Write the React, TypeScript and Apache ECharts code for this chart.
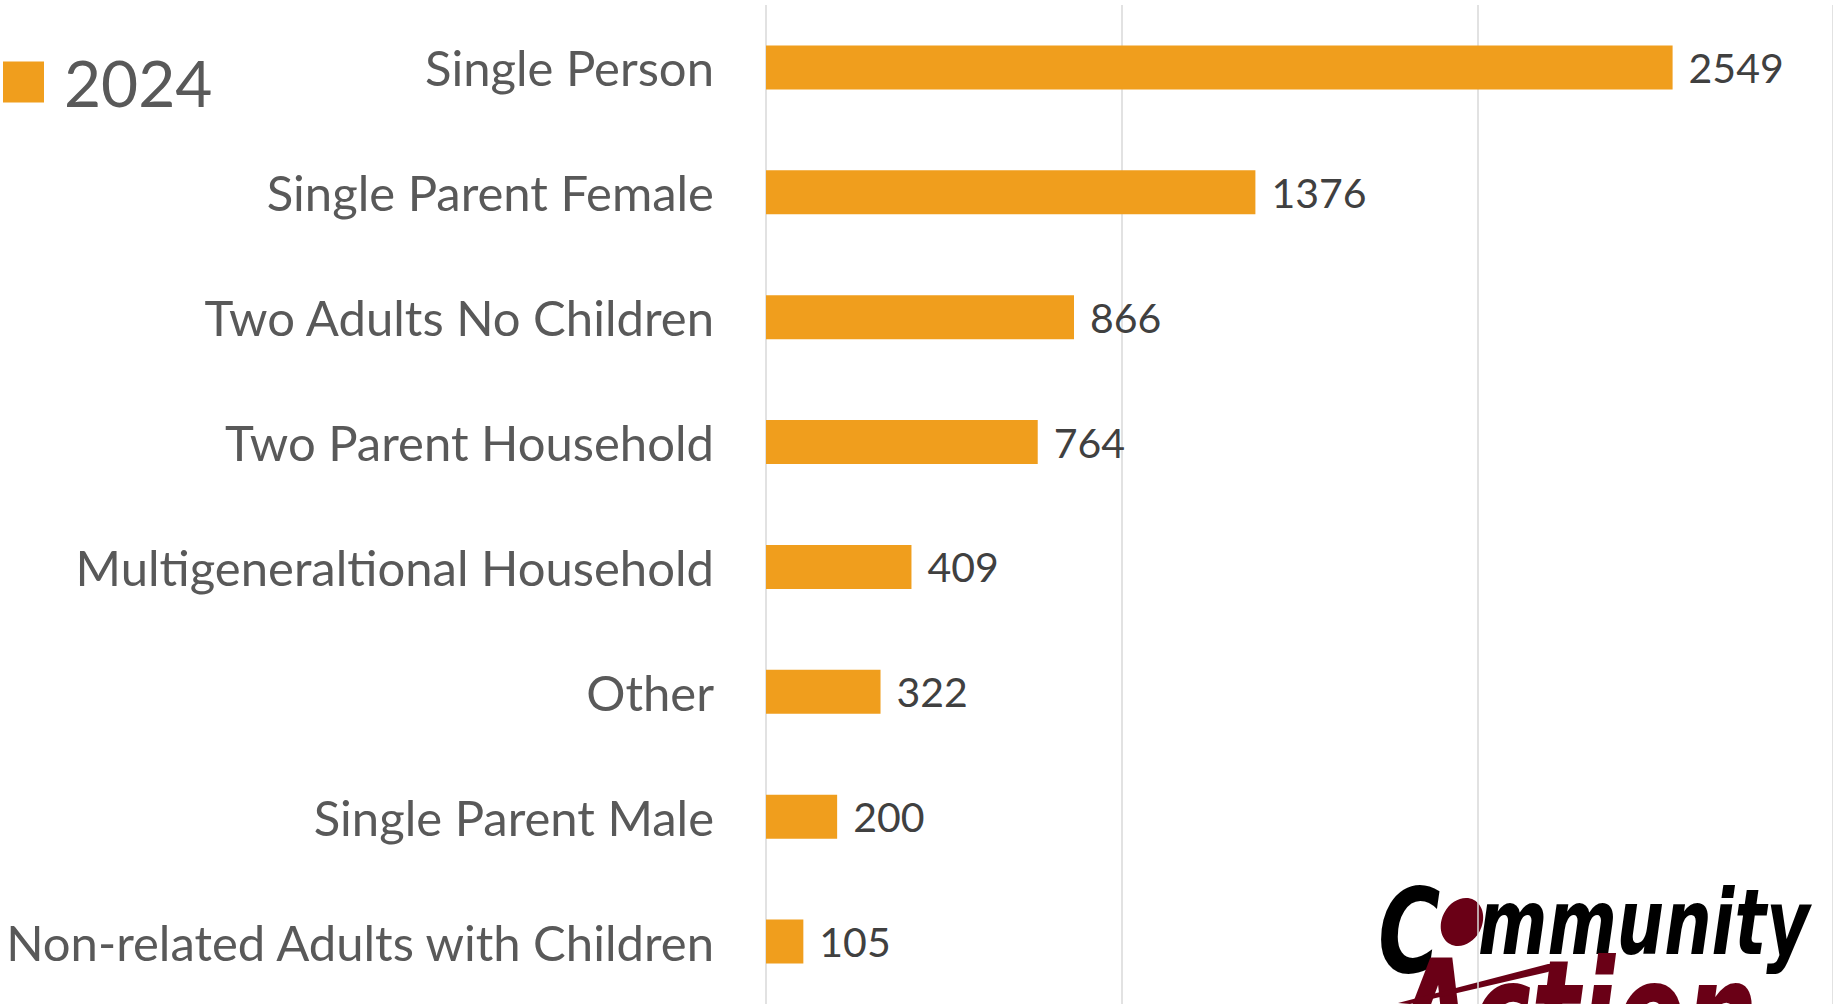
import React, { useEffect, useRef } from "react";
import * as echarts from "echarts";

const categories = [
  "Single Person",
  "Single Parent Female",
  "Two Adults No Children",
  "Two Parent Household",
  "Multigeneraltional Household",
  "Other",
  "Single Parent Male",
  "Non-related Adults with Children",
];
const values2024 = [2549, 1376, 866, 764, 409, 322, 200, 105];
const seriesName = "2024";
const xMin = 0;
const xMax = 3000;
const xInterval = 1000;

const ORANGE = "#F09E1D";
const MAROON = "#6A0016";
const FONT = "Lato";

export default function App() {
  const ref = useRef<HTMLDivElement>(null);
  useEffect(() => {
    document.body.style.margin = "0";
    if (!ref.current) return;
    const chart = echarts.init(ref.current, undefined, { renderer: "svg" });
    chart.setOption({
      animation: false,
      backgroundColor: "#ffffff",
      textStyle: { fontFamily: FONT },
      legend: {
        data: [seriesName],
        left: 3,
        top: 50,
        padding: 0,
        icon: "rect",
        itemWidth: 41,
        itemHeight: 41,
        textStyle: {
          fontFamily: FONT,
          fontSize: 64,
          lineHeight: 64,
          color: "#595959",
          padding: [0, 0, 0, 15],
        },
      },
      grid: { left: 766, right: 0, top: 5, bottom: 0, containLabel: false },
      xAxis: {
        type: "value",
        min: xMin,
        max: xMax,
        interval: xInterval,
        axisLabel: { show: false },
        axisTick: { show: false },
        axisLine: { show: false },
        splitLine: { show: true, lineStyle: { color: "#d9d9d9", width: 1.5 } },
      },
      yAxis: {
        type: "category",
        data: categories,
        inverse: true,
        axisTick: { show: false },
        axisLine: { show: false },
        axisLabel: {
          fontFamily: FONT,
          fontSize: 49,
          color: "#595959",
          margin: 52,
        },
      },
      series: [
        {
          name: seriesName,
          type: "bar",
          data: values2024,
          barWidth: 44,
          itemStyle: { color: ORANGE },
          label: {
            show: true,
            position: "right",
            distance: 16,
            fontFamily: FONT,
            fontSize: 41,
            color: "#404040",
          },
        },
      ],
      graphic: [
        {
          type: "group",
          silent: true,
          children: [
            {
              type: "text",
              x: 1378,
              y: 872,
              scaleX: 0.72,
              style: {
                text: "C",
                font: "italic bold 118px 'DejaVu Sans'",
                fill: "#000000",
                textAlign: "left",
                textVerticalAlign: "top",
              },
            },
            {
              type: "ellipse",
              x: 1462,
              y: 922,
              rotation: -0.5,
              shape: { cx: 0, cy: 0, rx: 20, ry: 25 },
              style: { fill: MAROON },
            },
            {
              type: "text",
              x: 1478,
              y: 878,
              scaleX: 0.74,
              style: {
                text: "mmunity",
                font: "italic bold 90px 'DejaVu Sans'",
                fill: "#000000",
                textAlign: "left",
                textVerticalAlign: "top",
              },
            },
            {
              type: "text",
              x: 1395,
              y: 940,
              scaleX: 0.68,
              style: {
                text: "Action",
                font: "italic bold 150px 'DejaVu Sans'",
                fill: MAROON,
                textAlign: "left",
                textVerticalAlign: "top",
              },
            },
            {
              type: "polygon",
              shape: {
                points: [
                  [1398, 1003],
                  [1548, 964],
                  [1561, 964],
                  [1548, 972],
                  [1410, 1004],
                ],
              },
              style: { fill: MAROON },
            },
          ],
        },
      ],
    });
    return () => chart.dispose();
  }, []);
  return (
    <div
      ref={ref}
      style={{ position: "fixed", left: 0, top: 0, width: 1833, height: 1004 }}
    />
  );
}
